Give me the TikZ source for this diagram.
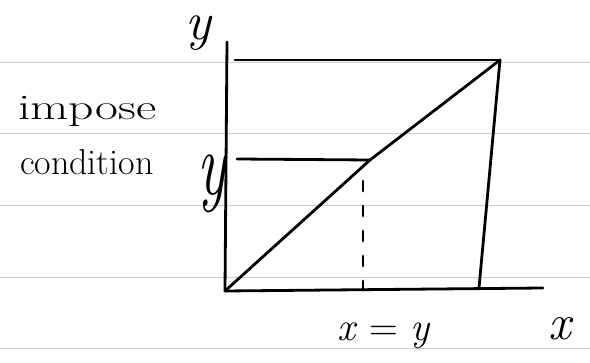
\documentclass[tikz,border=0pt]{standalone}
\usepackage{fontspec}
\usepackage{graphicx}
\begin{document}
\begin{tikzpicture}[x=1pt,y=-1pt,
  ink/.style={line width=2.8pt,line cap=round,line join=round,black},
  paperrule/.style={line width=1pt,black!20},
  dashline/.style={ink,dash pattern=on 10pt off 15pt},
  lab/.style={inner sep=0pt,outer sep=0pt}]
\useasboundingbox (0,0) rectangle (590,363);
\fill[white] (0,0) rectangle (590,363);
% ruled paper
\foreach \yy in {63,134,206,278,349} \draw[paperrule] (0,\yy) -- (590,\yy);
% key points
\coordinate (Atop) at (227,42);
\coordinate (O) at (225,291);
\coordinate (TL) at (235,60);
\coordinate (TR) at (500,60);
\coordinate (BR) at (479,288);
\coordinate (Xend) at (543,288);
\coordinate (Ystart) at (237,159);
\coordinate (P) at (370,160);
\coordinate (Dtop) at (363,181);
\coordinate (Dfoot) at (363,290);
% axes and box
\draw[ink] (Atop) -- (O);
\draw[ink] (O) -- (Xend);
\draw[ink] (TL) -- (TR);
\draw[ink] (TR) -- (BR);
\draw[ink] (O) -- (P) -- (TR);
\draw[ink] (Ystart) -- (P);
\draw[dashline] (Dtop) -- (Dfoot);
% labels
\node[lab,anchor=base] (ytop) at (198,40) {\fontsize{54}{54}\selectfont\itshape y};
\node[lab,anchor=base west] (impose) at (18,120) {\fontsize{36}{40}\selectfont\scalebox{1.38}[1]{impose}};
\node[lab,anchor=base west] (cond) at (20,175) {\fontsize{36}{40}\selectfont condition};
\node[lab] (yside) at (212,184) {\fontsize{60}{60}\selectfont\scalebox{1}[1.5]{\itshape y}};
\node[lab,anchor=base] (xeqy) at (384,341) {\fontsize{40}{40}\selectfont\textit{x} = \textit{y}};
\node[lab,anchor=base] (xlab) at (560,340) {\fontsize{50}{50}\selectfont\itshape x};
\end{tikzpicture}
\end{document}
